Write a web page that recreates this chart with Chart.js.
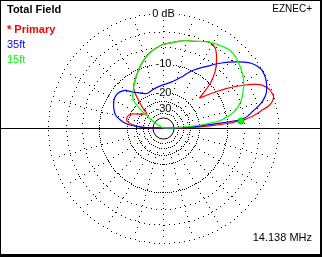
<!DOCTYPE html>
<html><head><meta charset="utf-8">
<script src="https://cdn.jsdelivr.net/npm/chart.js@4/dist/chart.umd.min.js"></script>
<style>html,body{margin:0;padding:0;background:#fff;overflow:hidden}canvas{display:block}</style>
</head><body>
<canvas id="c" width="325" height="257"></canvas>
<script>
// Elevation angle (deg) and gain (dB)
const elevRed = [0,1,2,3,4,5,6,7,8,10,12,14,16,18,20,22,24,26,28,30,32,34,36,38,39.5,41,43,45,47,50,53,56,59,62,65,70,75,80,85,90,95,100,105,110,115,120,125,128.7,132.6,136.5,138.8,146.3,151.7,156.4,163,169,173.6,177.4,179.5,180];
const dbRed   = [-99,-25,-18,-14,-10,-7.8,-5.6,-4.6,-3.8,-2.4,-1.0,-0.3,0,-0.1,-0.3,-0.7,-1.3,-2.5,-4.0,-5.6,-7.5,-9.6,-11.8,-14.0,-15.2,-13.0,-10.2,-8.5,-7.1,-5.6,-4.4,-3.4,-2.9,-2.8,-3.2,-3.8,-4.1,-4.6,-5.1,-5.5,-6.2,-7.0,-8.2,-9.5,-11.0,-12.5,-13.8,-16.2,-20.9,-25.4,-29.0,-26.1,-23.4,-20.5,-19.2,-19.6,-22.4,-28.4,-40,-99];

const elevBlue = [0,1,2,3,4,5,6,7,8,10,12,15,19,25,30,33,36,39,42,45,48,51,54,58,62,66,70,75,80,85,92,100,108,115,120,125,130,135,140,145,150,155,160,165,170,174,177,179,180];
const dbBlue   = [-99,-30,-24,-19.5,-16.5,-11.5,-7.0,-5.8,-5.1,-4.2,-3.2,-1.9,-0.85,-0.2,-0.05,-0.3,-0.8,-1.6,-2.6,-3.6,-4.7,-5.8,-7.0,-8.3,-9.6,-11.2,-12.9,-14.4,-15.5,-16.3,-17.0,-17.8,-18.6,-19.0,-18.2,-16.8,-15.5,-13.2,-12.3,-12.0,-12.2,-12.8,-13.6,-14.6,-17.0,-20.0,-26.0,-34.0,-99];

const elevGreen = [0,1,2,3,4,5,6,7,8,10,13,16,20,25,30,35,40,45,50,55,60,65,70,75,80,85,90,95,100,105,110,115,120,125,130,135,137,140,144,148,155,180];
const dbGreen   = [-99,-40,-33,-27,-22,-18,-15,-12.5,-11.3,-9.6,-7.8,-6.6,-5.5,-4.5,-3.6,-3.0,-2.5,-2.1,-2.0,-2.3,-2.7,-3.2,-3.8,-4.1,-4.6,-5.1,-5.5,-6.2,-7.0,-8.2,-9.5,-11.0,-12.5,-14.0,-15.4,-17.0,-17.8,-22.5,-32,-45,-99,-99];

const markerElev = [5.1];
const markerDb = [-6.6];

const seriesNames = ['* Primary', '35ft', '15ft'];
const ringDb = [0, -10, -20, -30];
const ringLabels = ['0 dB', '-10', '-20', '-30'];
const minorRingDb = [-3, -6, -25, -35];
const innerSolidRingDb = [-41];
const spokeAngles = [0,15,30,45,60,75,90,105,120,135,150,165,180,195,210,225,240,255,270,285,300,315,330,345];
const titleText = 'Total Field';
const brandText = 'EZNEC+';
const freqText = '14.138 MHz';

const COL_RED = '#ff0000', COL_BLUE = '#0000ff', COL_GREEN = '#00ff00';
const FONT = '"Liberation Sans", Arial, sans-serif';

function arrl(db) { return Math.pow(0.89, -db / 2); }
function toXY(elev, db) {
  return elev.map((a, i) => {
    const r = arrl(db[i]);
    const t = a * Math.PI / 180;
    return { x: r * Math.cos(t), y: r * Math.sin(t) };
  });
}

const gridPlugin = {
  id: 'ezGrid',
  beforeDraw(chart) {
    const ctx = chart.ctx;
    ctx.save();
    ctx.fillStyle = '#fff';
    ctx.fillRect(0, 0, chart.width, chart.height);
    ctx.restore();
  },
  beforeDatasetsDraw(chart) {
    const ctx = chart.ctx, xs = chart.scales.x, ys = chart.scales.y;
    const cx = xs.getPixelForValue(0), cy = ys.getPixelForValue(0);
    const R = xs.getPixelForValue(1) - cx;
    ctx.save();
    ctx.fillStyle = '#000';
    const dot = (x, y) => ctx.fillRect(Math.round(x), Math.round(y), 1, 1);
    const ring = (db, step) => {
      const rp = arrl(db) * R;
      const n = Math.max(8, Math.round(2 * Math.PI * rp / step));
      for (let i = 0; i < n; i++) {
        const t = 2 * Math.PI * i / n;
        dot(cx + rp * Math.cos(t), cy - rp * Math.sin(t));
      }
    };
    // spokes
    const r0 = arrl(-30) * R, r1 = R;
    spokeAngles.forEach(a => {
      if (a % 180 === 0) return;
      const t = a * Math.PI / 180;
      for (let r = r0 + 5; r < r1 - 2; r += 5.5) dot(cx + r * Math.cos(t), cy - r * Math.sin(t));
    });
    ring(0, 5);
    ring(minorRingDb[0], 5);
    ring(minorRingDb[1], 5);
    ring(-10, 2.2);
    ring(-20, 2.2);
    ring(minorRingDb[2], 2.2);
    ring(-30, 2.2);
    ring(minorRingDb[3], 2.2);
    // solid inner ring
    ctx.strokeStyle = '#000';
    ctx.lineWidth = 1;
    innerSolidRingDb.forEach(db => {
      ctx.beginPath();
      ctx.arc(cx + 0.5, cy + 0.5, arrl(db) * R, 0, Math.PI * 2);
      ctx.stroke();
    });
    // horizon axis
    ctx.fillRect(1, Math.round(cy), 320, 1);
    // ring labels
    ctx.font = '11px ' + FONT;
    ctx.textAlign = 'center';
    ctx.textBaseline = 'middle';
    ringDb.forEach((db, i) => {
      const y = cy - arrl(db) * R;
      const w = ctx.measureText(ringLabels[i]).width;
      ctx.fillStyle = '#fff';
      ctx.fillRect(cx - w / 2 - 1, y - 5, w + 2, 10);
      ctx.fillStyle = '#000';
      ctx.fillText(ringLabels[i], cx + 0.5, y + 0.5);
    });
    ctx.restore();
  },
  afterDraw(chart) {
    const ctx = chart.ctx;
    ctx.save();
    ctx.textBaseline = 'alphabetic';
    ctx.textAlign = 'left';
    ctx.fillStyle = '#000';
    ctx.font = 'bold 11px ' + FONT;
    ctx.fillText(titleText, 7, 13);
    ctx.fillStyle = COL_RED;
    ctx.fillText(seriesNames[0], 7, 33);
    ctx.font = '11px ' + FONT;
    ctx.fillStyle = COL_BLUE;
    ctx.fillText(seriesNames[1], 7, 48);
    ctx.fillStyle = COL_GREEN;
    ctx.fillText(seriesNames[2], 7, 63);
    ctx.fillStyle = '#000';
    ctx.textAlign = 'right';
    ctx.font = '10px ' + FONT;
    ctx.fillText(brandText, 312, 12);
    ctx.font = '11px ' + FONT;
    ctx.fillText(freqText, 312, 241);
    // frame
    ctx.fillRect(0, 0, 322, 1);
    ctx.fillRect(0, 0, 1, 256);
    ctx.fillRect(320, 0, 2, 256);
    ctx.fillRect(0, 254, 322, 3);
    ctx.restore();
  }
};

new Chart(document.getElementById('c'), {
  type: 'scatter',
  data: {
    datasets: [
      { label: 'marker', data: toXY(markerElev, markerDb), pointRadius: 3, pointBackgroundColor: COL_GREEN, pointBorderColor: '#00c000', pointBorderWidth: 1, showLine: false, order: -1 },
      { label: seriesNames[2], data: toXY(elevGreen, dbGreen), showLine: true, borderColor: COL_GREEN, borderWidth: 1.2, pointRadius: 0, tension: 0.25, order: 0 },
      { label: seriesNames[1], data: toXY(elevBlue, dbBlue), showLine: true, borderColor: COL_BLUE, borderWidth: 1.2, pointRadius: 0, tension: 0.25, order: 1 },
      { label: seriesNames[0], data: toXY(elevRed, dbRed), showLine: true, borderColor: COL_RED, borderWidth: 1.2, pointRadius: 0, tension: 0.2, order: 2 }
    ]
  },
  options: {
    responsive: false,
    devicePixelRatio: 1,
    animation: false,
    events: [],
    layout: { padding: { left: 48, right: 47, top: 13, bottom: 14 } },
    plugins: { legend: { display: false }, tooltip: { enabled: false } },
    scales: {
      x: { type: 'linear', min: -1, max: 1, display: false },
      y: { type: 'linear', min: -1, max: 1, display: false }
    }
  },
  plugins: [gridPlugin]
});
</script>
</body></html>
